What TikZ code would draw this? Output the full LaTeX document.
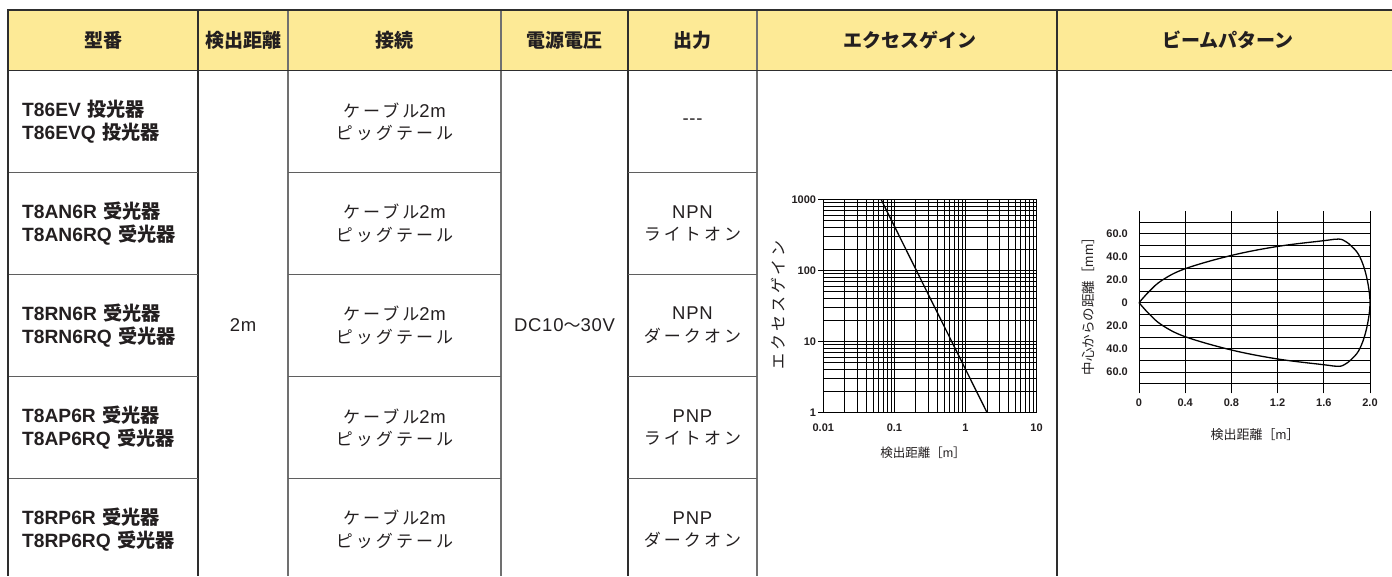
\documentclass[tikz,border=0pt]{standalone}
\usepackage{fontspec}
\setmainfont{Noto Sans CJK JP}
\newfontfamily\jpsp{Noto Sans CJK JP}[LetterSpace=18]
\newfontfamily\jpwide{Noto Sans CJK JP}[LetterSpace=18]
\newfontfamily\latf{Liberation Sans}
\newfontfamily\latsp{Liberation Sans}[LetterSpace=4]
\newcommand\lt[1]{{\latf #1}}
\newcommand\lc[1]{{\latsp\fontsize{18.5}{22.5}\selectfont #1}}
\newcommand\mdl[2]{\lt{#1}\hspace{6.5pt}#2}
\definecolor{hdrfill}{HTML}{FDEA96}
\definecolor{ink}{HTML}{231F20}
\definecolor{rule}{HTML}{2E2E2E}
\definecolor{rulegray}{HTML}{707070}
\begin{document}
\begin{tikzpicture}[x=1pt,y=-1pt,
  hdr/.style={font=\fontsize{19}{22}\selectfont\bfseries, text=ink, inner sep=0pt},
  model/.style={font=\fontsize{19.2}{22.5}\selectfont\bfseries, text=ink, anchor=west, align=left, inner sep=0pt},
  celltxt/.style={font=\jpsp\fontsize{17}{22.5}\selectfont, text=ink, align=center, inner sep=0pt},
  ticklbl/.style={font=\latf\fontsize{11}{12}\selectfont\bfseries, text=ink, inner sep=0pt},
  axtitle/.style={font=\fontsize{12.5}{14}\selectfont, text=ink, inner sep=0pt},
  gridln/.style={black, line width=0.7pt},
  gaincurve/.style={black, line width=1.3pt},
  darkrule/.style={draw=rule, line width=1.3pt},
  grayrule/.style={draw=rulegray, line width=1.2pt},
  rowrule/.style={draw=rulegray!85!black, line width=1pt}
]
\useasboundingbox (0,0) rectangle (1392,576);
% header band
\fill[hdrfill] (8,10) rectangle (1392,70.5);
% column rules
\draw[darkrule] (198,10) -- (198,576);
\draw[grayrule] (288,10) -- (288,576);
\draw[grayrule] (501,10) -- (501,576);
\draw[darkrule] (628,10) -- (628,576);
\draw[grayrule] (757,10) -- (757,576);
\draw[darkrule, line width=1.6pt] (1057,10) -- (1057,576);
% row rules
\foreach \yy in {172.7,274.3,376.5,478.7}{
  \draw[rowrule] (8,\yy) -- (198,\yy);
  \draw[rowrule] (288,\yy) -- (501,\yy);
  \draw[rowrule] (628,\yy) -- (757,\yy);
}
% outer frame
\draw[rule, line width=1.4pt] (8,70.5) -- (1392,70.5);
\draw[rule, line width=2.6pt] (8,10) -- (1392,10);
\draw[rule, line width=2pt] (8,9) -- (8,576);

% header texts
\node[hdr] (h1) at (103,40) {型番};
\node[hdr] (h2) at (243,40) {検出距離};
\node[hdr] (h3) at (394.5,40) {接続};
\node[hdr] (h4) at (564.5,40) {電源電圧};
\node[hdr] (h5) at (692.5,40) {出力};
\node[hdr] (h6) at (910,40) {エクセスゲイン};
\node[hdr] (h7) at (1228,40) {ビームパターン};

% model column
\node[model] (m1) at (22,121.6) {\mdl{T86EV}{投光器}\\\mdl{T86EVQ}{投光器}};
\node[model] (m2) at (22,223.5) {\mdl{T8AN6R}{受光器}\\\mdl{T8AN6RQ}{受光器}};
\node[model] (m3) at (22,325.4) {\mdl{T8RN6R}{受光器}\\\mdl{T8RN6RQ}{受光器}};
\node[model] (m4) at (22,427.6) {\mdl{T8AP6R}{受光器}\\\mdl{T8AP6RQ}{受光器}};
\node[model] (m5) at (22,529.5) {\mdl{T8RP6R}{受光器}\\\mdl{T8RP6RQ}{受光器}};

% distance, voltage
\node[celltxt] (dist) at (243,325.4) {\lc{2m}};
\node[celltxt] (volt) at (564.5,325.4) {\lc{DC10}〜\lc{30V}};

% connection column
\foreach \yy/\nm in {121.6/c1,223.5/c2,325.4/c3,427.6/c4,529.5/c5}{
  \node[celltxt] (\nm) at (394.5,\yy) {ケーブル\lc{2m}\\ピッグテール};
}
% output column
\node[celltxt] (o1) at (692.5,121.6) {\lc{-{}-{}-}};
\node[celltxt] (o2) at (692.5,223.5) {\lc{NPN}\\ライトオン};
\node[celltxt] (o3) at (692.5,325.4) {\lc{NPN}\\ダークオン};
\node[celltxt] (o4) at (692.5,427.6) {\lc{PNP}\\ライトオン};
\node[celltxt] (o5) at (692.5,529.5) {\lc{PNP}\\ダークオン};

% ===== excess gain graph =====
\begin{scope}[shift={(823.3,412.3)}, x=71.1pt, y=71pt]
  \foreach \k in {0,1,2}{
    \foreach \m in {1,...,9}{
      \draw[gridln] ({\k+log10(\m)},0) -- ({\k+log10(\m)},3);
      \draw[gridln] (0,{\k+log10(\m)}) -- (3,{\k+log10(\m)});
    }
  }
  \draw[gridln] (3,0) -- (3,3);
  \draw[gridln] (0,3) -- (3,3);
  \foreach \v in {0,1,2,3} \draw[gridln] (-0.07,\v) -- (0,\v);
  \coordinate (gs) at ({log10(0.0632)+2},3);
  \coordinate (ge) at ({log10(2)+2},0);
  \draw[gaincurve] (gs) -- (ge);
  \node[ticklbl, anchor=east] (gy0) at (-0.1,0) {1};
  \node[ticklbl, anchor=east] (gy1) at (-0.1,1) {10};
  \node[ticklbl, anchor=east] (gy2) at (-0.1,2) {100};
  \node[ticklbl, anchor=east] (gy3) at (-0.1,3) {1000};
  \node[ticklbl] (gx0) at (0,-0.22) {0.01};
  \node[ticklbl] (gx1) at (1,-0.22) {0.1};
  \node[ticklbl] (gx2) at (2,-0.22) {1};
  \node[ticklbl] (gx3) at (3,-0.22) {10};
\end{scope}
\node[axtitle] (gxt) at (923,453) {検出距離［\lt{m}］};
\node[axtitle, font=\jpwide\fontsize{16}{18}\selectfont, rotate=90] (gyt) at (778,305) {エクセスゲイン};

% ===== beam pattern graph =====
\begin{scope}[shift={(1139,302.7)}, x=115.5pt, y=1.153pt]
  \foreach \i in {0,...,5}
    \draw[gridln] ({\i*0.4},-78.6) -- ({\i*0.4},79.5);
  \foreach \j in {-7,...,7}
    \draw[gridln] (0,{\j*10}) -- (2,{\j*10});
  \draw[gaincurve] plot[smooth, tension=0.6] coordinates {
    (0,0) (0.09,10) (0.2,19.5) (0.4,29.5) (0.8,41) (1.2,48.8) (1.6,53.8)
    (1.73,55.2) (1.79,53) (1.84,49) (1.9,42) (1.95,30) (1.985,15) (2,0)
    (1.985,-15) (1.95,-30) (1.9,-42) (1.84,-49) (1.79,-53) (1.73,-55.2)
    (1.6,-53.8) (1.2,-48.8) (0.8,-41) (0.4,-29.5) (0.2,-19.5) (0.09,-10) (0,0)};
  \node[ticklbl, anchor=east] (by1) at (-0.095,60) {60.0};
  \node[ticklbl, anchor=east] (by2) at (-0.095,40) {40.0};
  \node[ticklbl, anchor=east] (by3) at (-0.095,20) {20.0};
  \node[ticklbl, anchor=east] (by4) at (-0.095,0) {0};
  \node[ticklbl, anchor=east] (by5) at (-0.095,-20) {20.0};
  \node[ticklbl, anchor=east] (by6) at (-0.095,-40) {40.0};
  \node[ticklbl, anchor=east] (by7) at (-0.095,-60) {60.0};
  \node[ticklbl] (bx0) at (0,-87) {0};
  \node[ticklbl] (bx1) at (0.4,-87) {0.4};
  \node[ticklbl] (bx2) at (0.8,-87) {0.8};
  \node[ticklbl] (bx3) at (1.2,-87) {1.2};
  \node[ticklbl] (bx4) at (1.6,-87) {1.6};
  \node[ticklbl] (bx5) at (2.0,-87) {2.0};
\end{scope}
\node[axtitle, font=\fontsize{13}{15}\selectfont] (bxt) at (1255,435) {検出距離［\lt{m}］};
\node[axtitle, font=\fontsize{13.5}{15}\selectfont, rotate=90] (byt) at (1088,303) {中心からの距離［\lt{mm}］};
\end{tikzpicture}
\end{document}
